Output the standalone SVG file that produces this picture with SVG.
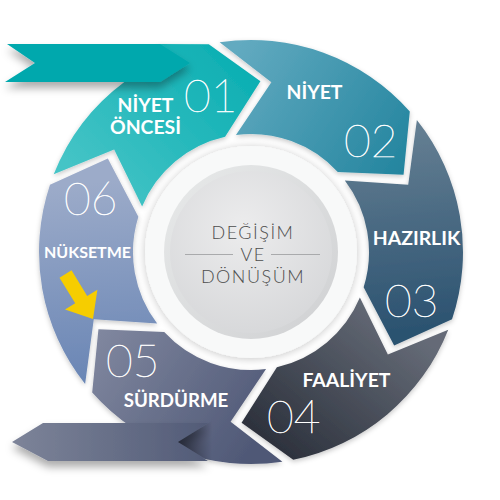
<svg xmlns="http://www.w3.org/2000/svg" width="500" height="500" viewBox="0 0 500 500">
<defs>
<style>
.lbl{font-family:Lato,"Liberation Sans",sans-serif;font-weight:700;font-size:19.4px;fill:#fff;text-anchor:middle}
.num{font-family:Lato,"Liberation Sans",sans-serif;font-weight:100;font-size:46px;fill:#fff;stroke:#fff;stroke-width:0.5px}
.ctr{font-family:Lato,"Liberation Sans",sans-serif;font-weight:300;font-size:18px;fill:#4d4d4d;text-anchor:middle;letter-spacing:1.5px}
.seg{filter:url(#sh)}
</style>
<linearGradient id="g1" gradientUnits="userSpaceOnUse" x1="100" y1="200" x2="250" y2="60"><stop offset="0" stop-color="#45c4c6"/><stop offset="1" stop-color="#0aaeb2"/></linearGradient>
<linearGradient id="g2" gradientUnits="userSpaceOnUse" x1="230" y1="60" x2="410" y2="170"><stop offset="0" stop-color="#62aac0"/><stop offset="1" stop-color="#22849e"/></linearGradient>
<linearGradient id="g3" gradientUnits="userSpaceOnUse" x1="410" y1="130" x2="430" y2="330"><stop offset="0" stop-color="#647e92"/><stop offset="1" stop-color="#2b5270"/></linearGradient>
<linearGradient id="g4" gradientUnits="userSpaceOnUse" x1="400" y1="320" x2="290" y2="455"><stop offset="0" stop-color="#656b77"/><stop offset="1" stop-color="#2e333e"/></linearGradient>
<linearGradient id="g5" gradientUnits="userSpaceOnUse" x1="100" y1="330" x2="260" y2="440"><stop offset="0" stop-color="#80879f"/><stop offset="1" stop-color="#4f5876"/></linearGradient>
<linearGradient id="g6" gradientUnits="userSpaceOnUse" x1="70" y1="185" x2="90" y2="380"><stop offset="0" stop-color="#9cabc9"/><stop offset="1" stop-color="#6a86b5"/></linearGradient>
<linearGradient id="gr2" gradientUnits="userSpaceOnUse" x1="12" y1="0" x2="208" y2="0"><stop offset="0" stop-color="#7d8499"/><stop offset="1" stop-color="#525b77"/></linearGradient>
<linearGradient id="fold" gradientUnits="userSpaceOnUse" x1="178" y1="0" x2="212" y2="0"><stop offset="0" stop-color="#262a38"/><stop offset="1" stop-color="#262a38" stop-opacity="0"/></linearGradient>
<linearGradient id="gring" x1="0" y1="0" x2="1" y2="1"><stop offset="0" stop-color="#e8eaea"/><stop offset="1" stop-color="#cfd0d2"/></linearGradient>
<radialGradient id="gdisk" cx="0.45" cy="0.35" r="0.7"><stop offset="0" stop-color="#ececed"/><stop offset="1" stop-color="#d6d7d9"/></radialGradient>
<filter id="sh" x="-20%" y="-20%" width="140%" height="140%"><feDropShadow dx="0" dy="2" stdDeviation="2.5" flood-color="#000" flood-opacity="0.22"/></filter>
<filter id="rsh" x="-20%" y="-40%" width="140%" height="200%"><feDropShadow dx="0" dy="6" stdDeviation="4" flood-color="#000" flood-opacity="0.33"/></filter>
<filter id="csh" x="-20%" y="-20%" width="140%" height="140%"><feDropShadow dx="0" dy="1" stdDeviation="4" flood-color="#000" flood-opacity="0.22"/></filter>
</defs>
<rect width="500" height="500" fill="#fff"/>

<g id="node-01">
<path class="seg" fill="url(#g1)" d="M53.73 174.35 A212 212 0 0 1 124.33 82 L160 44 L208.78 44.25 L260.42 81.26 L225.12 136.87 A118 118 0 0 0 142.12 206.52 L114.15 149.46 Z"/>
</g>
<g id="node-02">
<path class="seg" fill="url(#g2)" d="M219.61 42.34 A212 212 0 0 1 409.81 111.56 L403.57 174.78 L337.76 172.02 A118 118 0 0 0 235.95 134.96 L271.37 82.22 Z"/>
<text class="lbl" x="314.5" y="99">NİYET</text>
<text class="num" x="344" y="157">02</text>
</g>
<g id="node-03">
<path class="seg" fill="url(#g3)" d="M416.88 119.99 A212 212 0 0 1 452.03 319.32 L394.16 345.53 L363.64 287.15 A118 118 0 0 0 344.83 180.44 L408.22 184.75 Z"/>
<text class="lbl" x="416.5" y="245">HAZIRLIK</text>
<text class="num" x="385" y="317">03</text>
</g>
<g id="node-04">
<path class="seg" fill="url(#g4)" d="M448.27 329.65 A212 212 0 0 1 293.22 459.76 L241.58 422.74 L276.88 367.13 A118 118 0 0 0 359.88 297.48 L387.85 354.54 Z"/>
<text class="lbl" x="346.5" y="387">FAALİYET</text>
<text class="num" x="267" y="433">04</text>
</g>
<g id="node-05">
<path class="seg" fill="url(#g5)" d="M282.39 461.66 A212 212 0 0 1 92.19 392.44 L98.43 329.22 L164.24 331.98 A118 118 0 0 0 266.06 369.04 L230.63 421.78 Z"/>
<text class="num" x="106" y="377">05</text>
<text class="lbl" x="176" y="407" style="font-size:18.7px">SÜRDÜRME</text>
</g>
<g id="node-06">
<path class="seg" fill="url(#g6)" d="M85.12 384.01 A212 212 0 0 1 49.97 184.68 L107.84 158.47 L138.36 216.85 A118 118 0 0 0 157.17 323.56 L93.78 319.25 Z"/>
<text class="num" x="64" y="215">06</text>
<text class="lbl" x="87.5" y="258" style="font-size:16px">NÜKSETME</text>
</g>

<g id="ribbon-top">
<polygon filter="url(#rsh)" fill="#06a8ad" points="7,44 160,44 190,63 160,82 5,82 35,63"/>
</g>
<g id="ribbon-bottom">
<polygon filter="url(#rsh)" fill="url(#gr2)" points="12,442 43,423 208,423 178,442 208,461 48,461"/>
<polygon fill="url(#fold)" points="178,442 212,421 212,463"/>
</g>

<g id="node-01-text">
<text class="lbl" x="145.5" y="112">NİYET</text>
<text class="lbl" x="145.5" y="134">ÖNCESİ</text>
<text class="num" x="184" y="112">01</text>
</g>

<g id="center">
<circle cx="251" cy="252" r="106" fill="#f8f9f9" filter="url(#csh)"/>
<circle cx="251" cy="252" r="87" fill="url(#gring)"/>
<circle cx="251" cy="252" r="81" fill="url(#gdisk)"/>
<text class="ctr" x="253" y="239">DEĞİŞİM</text>
<text class="ctr" x="253" y="261">VE</text>
<text class="ctr" x="253" y="283">DÖNÜŞÜM</text>
<line x1="185" y1="254.5" x2="233" y2="254.5" stroke="#a9aaac" stroke-width="1"/>
<line x1="271" y1="254.5" x2="320" y2="254.5" stroke="#a9aaac" stroke-width="1"/>
</g>

<g id="connectors">
<polygon fill="#f6cd00" points="71.5,270.3 87.2,295.9 97.4,289.7 93,319 65,309.5 75.2,303.3 59.5,277.7"/>
</g>
</svg>
